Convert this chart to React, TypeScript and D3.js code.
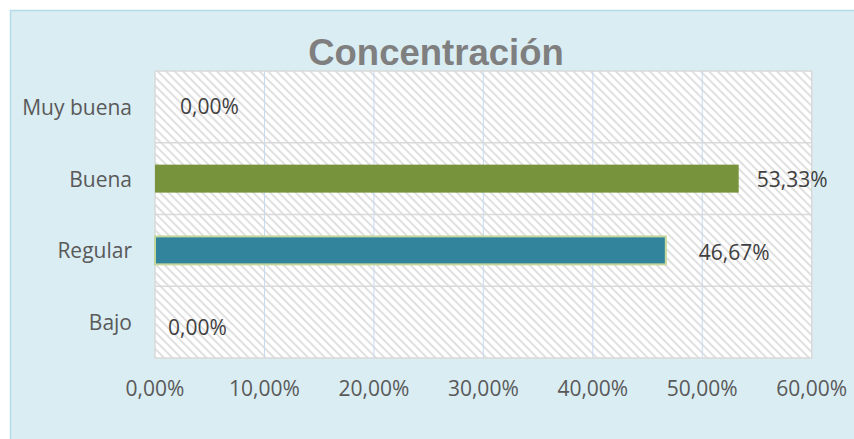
import React from "react";
import * as d3 from "d3";

const categories = ["Muy buena", "Buena", "Regular", "Bajo"];
const values = [0, 0.5333, 0.4667, 0];
const barColors = ["#4BACC6", "#77933C", "#31849B", "#8064A2"];
const barStrokes = ["none", "none", "#C3D69B", "none"];
const labelNudgeX = [25, 18, 33, 13];
const labelNudgeY = [-1, 0, 2, 5];
const xTicks = [0, 0.1, 0.2, 0.3, 0.4, 0.5, 0.6];
const title = "Concentración";

const W = 854;
const H = 439;
const plot = { left: 155, top: 71, right: 811.7, bottom: 358 };

const fmt = (v: number) => (v * 100).toFixed(2).replace(".", ",") + "%";

export default function App() {
  const x = d3.scaleLinear().domain([0, 0.6]).range([plot.left, plot.right]);
  const y = d3
    .scaleBand<string>()
    .domain(categories)
    .range([plot.top, plot.bottom])
    .padding(0);
  const bw = y.bandwidth();
  const barH = bw * 0.39;
  const font = "'Open Sans', 'DejaVu Sans', sans-serif";
  const fs = 21;

  return (
    <svg
      width={W}
      height={H}
      style={{ position: "absolute", left: 0, top: 0, display: "block" }}
    >
      <defs>
        <pattern
          id="hatch"
          patternUnits="userSpaceOnUse"
          width={6}
          height={6}
          patternTransform="rotate(-45)"
        >
          <rect width={6} height={6} fill="#ffffff" />
          <rect x={0} y={0} width={2} height={6} fill="#E0E0E0" />
        </pattern>
      </defs>
      <rect width={W} height={H} fill="#ffffff" />
      <rect
        x={10.5}
        y={10.5}
        width={W + 20}
        height={H + 20}
        fill="#DAEDF3"
        stroke="#B3DCE8"
        strokeWidth={1.5}
      />
      <text
        x={436}
        y={65}
        textAnchor="middle"
        fontFamily="'Liberation Sans', Arial, sans-serif"
        fontWeight="bold"
        fontSize={36.5}
        fill="#7F7F7F"
      >
        {title}
      </text>
      <rect
        x={plot.left}
        y={plot.top}
        width={plot.right - plot.left}
        height={plot.bottom - plot.top}
        fill="url(#hatch)"
      />
      {xTicks.slice(1, -1).map((t) => (
        <line
          key={t}
          x1={x(t)}
          x2={x(t)}
          y1={plot.top}
          y2={plot.bottom}
          stroke="#C6D9F1"
          strokeWidth={1}
        />
      ))}
      {categories.slice(1).map((c) => (
        <line
          key={c}
          x1={plot.left}
          x2={plot.right}
          y1={y(c)!}
          y2={y(c)!}
          stroke="#D9D9D9"
          strokeWidth={1.5}
        />
      ))}
      <rect
        x={plot.left}
        y={plot.top}
        width={plot.right - plot.left}
        height={plot.bottom - plot.top}
        fill="none"
        stroke="#D9D9D9"
        strokeWidth={1.5}
      />
      {categories.map((c, i) =>
        values[i] > 0 ? (
          <rect
            key={c}
            x={x(0)}
            y={y(c)! + (bw - barH) / 2}
            width={x(values[i]) - x(0)}
            height={barH}
            fill={barColors[i]}
            stroke={barStrokes[i]}
            strokeWidth={barStrokes[i] === "none" ? 0 : 2}
          />
        ) : null
      )}
      {categories.map((c, i) => (
        <text
          key={"l" + c}
          x={x(values[i]) + labelNudgeX[i]}
          y={y(c)! + bw / 2 + labelNudgeY[i]}
          dominantBaseline="central"
          fontFamily={font}
          fontSize={fs}
          fill="#404040"
        >
          {fmt(values[i])}
        </text>
      ))}
      {categories.map((c) => (
        <text
          key={"c" + c}
          x={132}
          y={y(c)! + bw / 2}
          dominantBaseline="central"
          textAnchor="end"
          fontFamily={font}
          fontSize={fs}
          fill="#595959"
        >
          {c}
        </text>
      ))}
      {xTicks.map((t) => (
        <text
          key={"t" + t}
          x={x(t)}
          y={396}
          textAnchor="middle"
          fontFamily={font}
          fontSize={fs}
          fill="#595959"
        >
          {fmt(t)}
        </text>
      ))}
    </svg>
  );
}
